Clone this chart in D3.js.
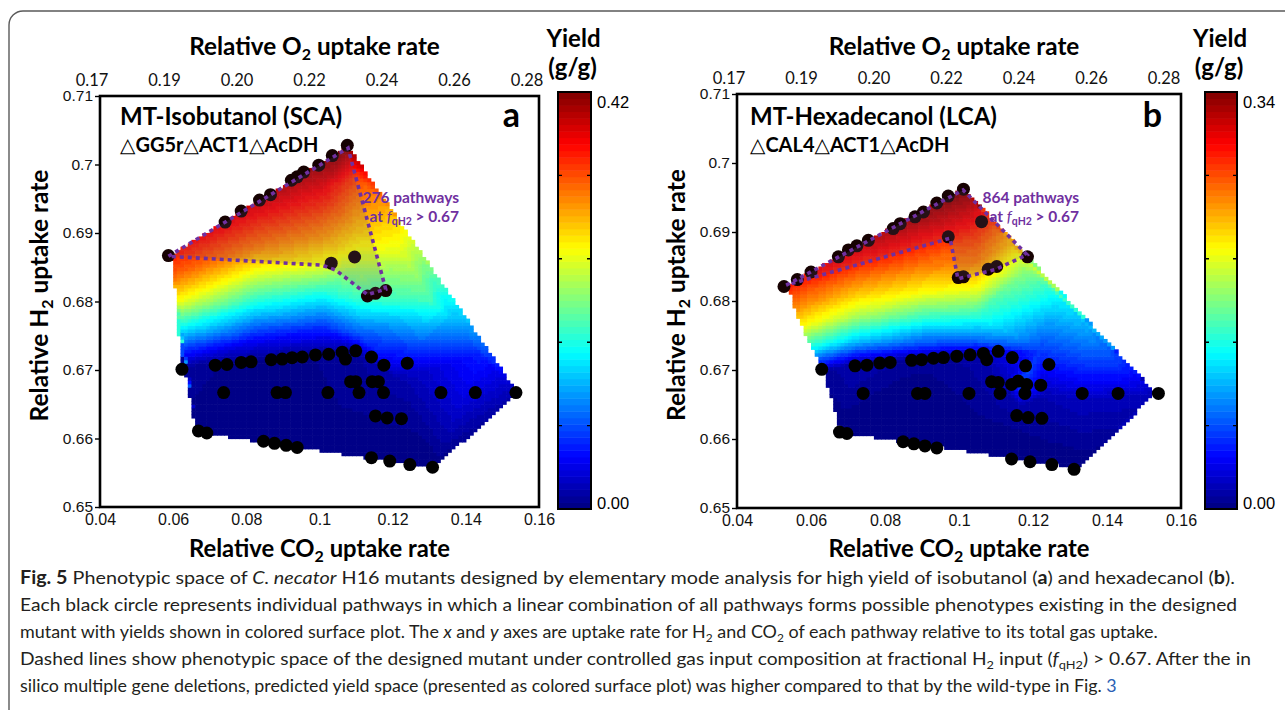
<!DOCTYPE html>
<html>
<head>
<meta charset="utf-8">
<script src="https://cdn.jsdelivr.net/npm/d3@7"></script>
<style>
body { margin: 0; background: #fff; }
svg text { font-family: Lato, "Open Sans", sans-serif; }
.num { font-family: "Liberation Sans", Arial, sans-serif; }
</style>
</head>
<body>
<svg id="fig" width="1285" height="710"></svg>
<script>
// ---- axes (shared by both panels) ----
var xTicks = [0.04, 0.06, 0.08, 0.10, 0.12, 0.14, 0.16];
var xTickLabels = ["0.04", "0.06", "0.08", "0.1", "0.12", "0.14", "0.16"];
var yTicks = [0.65, 0.66, 0.67, 0.68, 0.69, 0.70, 0.71];
var yTickLabels = ["0.65", "0.66", "0.67", "0.68", "0.69", "0.7", "0.71"];
var o2Labels = ["0.17", "0.19", "0.20", "0.22", "0.24", "0.26", "0.28"];

// ---- panel a : MT-Isobutanol ----
var aLowPathways = [
  [0.0624,0.6701],[0.0715,0.6707],[0.0747,0.6708],[0.0786,0.6711],[0.0813,0.6712],[0.0868,0.6715],[0.0898,0.6716],
  [0.0925,0.6718],[0.0953,0.6719],[0.0989,0.6722],[0.1025,0.6723],[0.1062,0.6726],[0.1099,0.6728],[0.1142,0.6719],
  [0.1071,0.6716],[0.1176,0.6707],[0.1240,0.6710],
  [0.1085,0.6683],[0.1099,0.6683],[0.1144,0.6683],[0.1161,0.6683],
  [0.0738,0.6667],[0.0884,0.6667],[0.0907,0.6667],[0.1023,0.6667],[0.1108,0.6667],[0.1175,0.6667],[0.1332,0.6667],
  [0.1426,0.6667],[0.1537,0.6667],
  [0.1153,0.6633],[0.1185,0.6630],[0.1224,0.6629],
  [0.0669,0.6611],[0.0692,0.6608],
  [0.0847,0.6596],[0.0877,0.6593],[0.0909,0.6590],[0.0939,0.6587],
  [0.1142,0.6572],[0.1192,0.6567],[0.1247,0.6562],[0.1309,0.6558]
];
var aHighPathways = [
  [0.0587,0.6867],[0.0742,0.6916],[0.0786,0.6932],[0.0836,0.6948],[0.0866,0.6956],[0.0923,0.6977],[0.0939,0.6982],
  [0.0957,0.6989],[0.0998,0.6999],[0.1035,0.7013],[0.1076,0.7028],
  [0.1032,0.6856],[0.1096,0.6865],
  [0.1131,0.6808],[0.1153,0.6812],[0.1181,0.6816]
];
var aRegion = [[0.0587,0.6866],[0.1078,0.7024],[0.1181,0.6818],[0.1131,0.6810],[0.1107,0.6820],[0.1044,0.6846],[0.1007,0.6853]];
var aSurfaceEdge = [[0.0586,0.6866],[0.1077,0.7027],[0.1540,0.6668],[0.1312,0.6557],[0.0666,0.6609],[0.0655,0.6631],
  [0.0641,0.6675],[0.0622,0.6715],[0.0611,0.6773],[0.0600,0.6858]];
// [x, y, yield g/g]
var aYield = [
  [0.0586,0.6866,0.357],[0.0833,0.6948,0.386],[0.1077,0.7027,0.42],
  [0.0600,0.6839,0.328],[0.0614,0.6802,0.260],[0.0622,0.6770,0.176],[0.0630,0.6736,0.084],[0.0641,0.6706,0.013],
  [0.0825,0.6882,0.319],[0.0825,0.6846,0.260],[0.0825,0.6795,0.160],[0.0825,0.6744,0.050],[0.0825,0.6712,0.0],
  [0.1008,0.6963,0.370],[0.1008,0.6897,0.307],[0.1008,0.6853,0.252],[0.1008,0.6817,0.176],[0.1008,0.6766,0.076],[0.1008,0.6726,0.008],
  [0.1099,0.6985,0.344],[0.1099,0.6904,0.286],[0.1112,0.6853,0.235],[0.1112,0.6802,0.176],[0.1112,0.6751,0.084],[0.1099,0.6726,0.013],
  [0.1195,0.6934,0.294],[0.1236,0.6868,0.244],[0.1304,0.6802,0.185],[0.1373,0.6773,0.126],[0.1441,0.6722,0.063],[0.1540,0.6668,0.021],
  [0.0666,0.6609,0],[0.1312,0.6557,0],[0.1222,0.6685,0.017],[0.1277,0.6729,0.071],[0.0948,0.6627,0]
];

// ---- panel b : MT-Hexadecanol ----
var bLowPathways = [
  [0.0629,0.6701],[0.0719,0.6706],[0.0751,0.6707],[0.0786,0.6710],[0.0814,0.6711],[0.0872,0.6714],[0.0899,0.6715],
  [0.0931,0.6717],[0.0958,0.6718],[0.0994,0.6720],[0.1030,0.6722],[0.1066,0.6724],[0.1106,0.6727],[0.1075,0.6715],
  [0.1144,0.6718],[0.1180,0.6706],[0.1243,0.6708],
  [0.1088,0.6683],[0.1106,0.6682],[0.1142,0.6679],[0.1160,0.6684],[0.1183,0.6679],[0.1221,0.6678],
  [0.0741,0.6666],[0.0888,0.6666],[0.0908,0.6666],[0.1027,0.6666],[0.1111,0.6666],[0.1178,0.6666],[0.1333,0.6666],
  [0.1430,0.6666],[0.1539,0.6666],
  [0.1156,0.6634],[0.1187,0.6631],[0.1224,0.6630],
  [0.0677,0.6610],[0.0697,0.6608],
  [0.0849,0.6596],[0.0878,0.6593],[0.0908,0.6590],[0.0940,0.6587],
  [0.1142,0.6571],[0.1192,0.6567],[0.1251,0.6563],[0.1311,0.6556]
];
var bHighPathways = [
  [0.0527,0.6821],[0.0563,0.6831],[0.0600,0.6842],[0.0674,0.6864],[0.0701,0.6874],[0.0724,0.6880],[0.0755,0.6888],
  [0.0822,0.6905],[0.0841,0.6912],[0.0881,0.6922],[0.0904,0.6929],[0.0940,0.6942],[0.0971,0.6952],[0.1012,0.6962],
  [0.0971,0.6893],[0.1061,0.6915],
  [0.0998,0.6834],[0.1012,0.6835],[0.1079,0.6846],[0.1102,0.6850],[0.1185,0.6864]
];
var bRegion = [[0.0533,0.6823],[0.1011,0.6961],[0.1184,0.6867],[0.1100,0.6846],[0.0997,0.6832],[0.0976,0.6891]];
var bSurfaceEdge = [[0.0524,0.6820],[0.1011,0.6964],[0.1532,0.6667],[0.1322,0.6558],[0.0678,0.6610],[0.0673,0.6628],
  [0.0632,0.6700],[0.0589,0.6748],[0.0562,0.6777],[0.0543,0.6813]];
var bYield = [
  [0.0527,0.6820,0.289],[0.0759,0.6888,0.316],[0.1011,0.6962,0.34],
  [0.0557,0.6794,0.255],[0.0573,0.6765,0.214],[0.0592,0.6736,0.143],[0.0611,0.6714,0.068],[0.0630,0.6697,0.007],
  [0.0724,0.6857,0.289],[0.0724,0.6816,0.238],[0.0724,0.6780,0.187],[0.0724,0.6743,0.109],[0.0724,0.6712,0.017],
  [0.0903,0.6920,0.323],[0.0903,0.6852,0.258],[0.0903,0.6813,0.211],[0.0903,0.6772,0.136],[0.0903,0.6736,0.061],[0.0903,0.6717,0.007],
  [0.1049,0.6896,0.279],[0.1049,0.6857,0.255],[0.1049,0.6816,0.204],[0.1049,0.6780,0.143],[0.1049,0.6743,0.075],[0.1049,0.6723,0.014],
  [0.1130,0.6886,0.240],[0.1178,0.6845,0.175],[0.1265,0.6809,0.130],[0.1354,0.6751,0.092],[0.1443,0.6697,0.051],[0.1530,0.6667,0.020],
  [0.1219,0.6729,0.061],[0.1165,0.6681,0.068],[0.1111,0.6681,0.014],[0.1232,0.6664,0.017],[0.1165,0.6649,0.014],
  [0.0678,0.6610,0],[0.1322,0.6559,0],[0.0976,0.6628,0],[0.1327,0.6656,0.02]
];

// ---- caption ----
var captionLines = [
  [["Fig. 5","b"],["  Phenotypic space of ",""],["C. necator","i"],[" H16 mutants designed by elementary mode analysis for high yield of isobutanol (",""],["a","b"],[") and hexadecanol (",""],["b","b"],[").",""]],
  [["Each black circle represents individual pathways in which a linear combination of all pathways forms possible phenotypes existing in the designed",""]],
  [["mutant with yields shown in colored surface plot. The ",""],["x","i"],[" and ",""],["y","i"],[" axes are uptake rate for H",""],["2","sub"],[" and CO",""],["2","sub"],[" of each pathway relative to its total gas uptake.",""]],
  [["Dashed lines show phenotypic space of the designed mutant under controlled gas input composition at fractional H",""],["2","sub"],[" input (",""],["f","i"],["qH2","sub"],[") > 0.67. After the in",""]],
  [["silico multiple gene deletions, predicted yield space (presented as colored surface plot) was higher compared to that by the wild-type in Fig. ",""],["3","link"]]
];
var captionEnds = [1236, 1238, 1158, 1252, 1118];

var svg = d3.select("#fig");
var PURPLE = "#7030a0";

// outer frame of the figure box
svg.append("rect")
  .attr("x", 9).attr("y", 11)
  .attr("width", 1320).attr("height", 740)
  .attr("rx", 14)
  .attr("fill", "none")
  .attr("stroke", "#5a5a5a")
  .attr("stroke-width", 1.4);

function jet(t) {
  var c = function(v) { return Math.max(0, Math.min(1, v)); };
  var r = c(1.5 - Math.abs(4 * t - 3)),
      g = c(1.5 - Math.abs(4 * t - 2)),
      b = c(1.5 - Math.abs(4 * t - 1));
  return "rgb(" + Math.round(r * 255) + "," + Math.round(g * 255) + "," + Math.round(b * 255) + ")";
}
function jetLevel(t) {
  var k = Math.max(0, Math.min(63, Math.floor(t * 64)));
  return jet((k + 0.5) / 64);
}

function drawPanel(cfg) {
  var x = d3.scaleLinear().domain([0.04, 0.16]).range([cfg.left, cfg.right]);
  var y = d3.scaleLinear().domain([0.65, 0.71]).range([cfg.bottom, cfg.top]);
  var g = svg.append("g");

  // surface: linear interpolation over a triangulation of the yield samples
  var pts = cfg.yieldData.map(function(d) { return [x(d[0]), y(d[1])]; });
  var vals = cfg.yieldData.map(function(d) { return d[2]; });
  var del = d3.Delaunay.from(pts);
  var tris = [];
  for (var i = 0; i < del.triangles.length; i += 3)
    tris.push([del.triangles[i], del.triangles[i + 1], del.triangles[i + 2]]);

  function interp(p) {
    for (var k = 0; k < tris.length; k++) {
      var a = pts[tris[k][0]], b = pts[tris[k][1]], c = pts[tris[k][2]];
      var den = (b[1] - c[1]) * (a[0] - c[0]) + (c[0] - b[0]) * (a[1] - c[1]);
      var l1 = ((b[1] - c[1]) * (p[0] - c[0]) + (c[0] - b[0]) * (p[1] - c[1])) / den;
      var l2 = ((c[1] - a[1]) * (p[0] - c[0]) + (a[0] - c[0]) * (p[1] - c[1])) / den;
      var l3 = 1 - l1 - l2;
      if (l1 >= -1e-9 && l2 >= -1e-9 && l3 >= -1e-9)
        return l1 * vals[tris[k][0]] + l2 * vals[tris[k][1]] + l3 * vals[tris[k][2]];
    }
    return vals[del.find(p[0], p[1])];
  }

  var edge = cfg.edge.map(function(d) { return [x(d[0]), y(d[1])]; });
  var cells = [];
  var dx = 0.001, dy = 0.0005;
  for (var cx = 0.05; cx < 0.16; cx += dx) {
    for (var cy = 0.654; cy < 0.705; cy += dy) {
      var c = [x(cx + dx / 2), y(cy + dy / 2)];
      if (!d3.polygonContains(edge, c)) continue;
      cells.push({x0: cx, y0: cy, v: interp(c)});
    }
  }
  g.append("g").selectAll("rect")
    .data(cells)
    .join("rect")
    .attr("x", function(d) { return x(d.x0); })
    .attr("y", function(d) { return y(d.y0 + dy); })
    .attr("width", x(dx) - x(0) + 0.6)
    .attr("height", y(0.65) - y(0.65 + dy) + 0.6)
    .attr("fill", function(d) { return jetLevel(d.v / cfg.maxYield); });

  // pathways
  g.append("g").selectAll("circle")
    .data(cfg.low)
    .join("circle")
    .attr("cx", function(d) { return x(d[0]); })
    .attr("cy", function(d) { return y(d[1]); })
    .attr("r", 6.5)
    .attr("fill", "#000");
  g.append("g").selectAll("circle")
    .data(cfg.high)
    .join("circle")
    .attr("cx", function(d) { return x(d[0]); })
    .attr("cy", function(d) { return y(d[1]); })
    .attr("r", 6.5)
    .attr("fill", "#160202");

  // phenotypic space at fqH2 > 0.67
  g.append("path")
    .attr("d", "M" + cfg.region.map(function(d) { return [x(d[0]), y(d[1])]; }).join("L") + "Z")
    .attr("fill", "#6b5a7a")
    .attr("fill-opacity", 0.18)
    .attr("stroke", PURPLE)
    .attr("stroke-width", 3.6)
    .attr("stroke-dasharray", "4 4");

  var note = g.append("text")
    .attr("x", cfg.noteX).attr("y", 203)
    .attr("text-anchor", "end")
    .attr("fill", PURPLE)
    .attr("font-size", 15.5)
    .attr("font-weight", 700);
  note.append("tspan").text(cfg.note);
  var note2 = g.append("text")
    .attr("x", cfg.noteX).attr("y", 222)
    .attr("text-anchor", "end")
    .attr("fill", PURPLE)
    .attr("font-size", 15.5)
    .attr("font-weight", 700);
  note2.append("tspan").text("at ");
  note2.append("tspan").attr("font-style", "italic").attr("font-weight", 400).text("f");
  note2.append("tspan").attr("font-size", 10.5).attr("dy", 3).text("qH2");
  note2.append("tspan").attr("dy", -3).text(" > 0.67");

  // frame
  g.append("rect")
    .attr("x", cfg.left).attr("y", cfg.top)
    .attr("width", cfg.right - cfg.left).attr("height", cfg.bottom - cfg.top)
    .attr("fill", "none").attr("stroke", "#000").attr("stroke-width", 2.6);

  // left axis
  var ya = g.append("g")
    .attr("transform", "translate(" + cfg.left + ",0)")
    .call(d3.axisLeft(y).tickValues(yTicks).tickSize(5).tickPadding(2)
      .tickFormat(function(d, i) { return yTickLabels[i]; }));
  ya.select(".domain").remove();
  ya.selectAll("line").attr("stroke-width", 1.4);
  ya.selectAll("text").attr("class", "num").attr("font-size", 15.5).attr("fill", "#111");

  // bottom axis
  var xa = g.append("g")
    .attr("transform", "translate(0," + cfg.bottom + ")")
    .call(d3.axisBottom(x).tickValues(xTicks).tickSize(0).tickPadding(7)
      .tickFormat(function(d, i) { return xTickLabels[i]; }));
  xa.select(".domain").remove();
  xa.selectAll("text").attr("class", "num").attr("font-size", 16).attr("fill", "#111");

  // top O2 labels
  var top = d3.scalePoint().domain(o2Labels).range([cfg.left - 8, cfg.right - cfg.topShrink]);
  g.append("g").selectAll("text")
    .data(o2Labels)
    .join("text")
    .attr("x", function(d) { return top(d); })
    .attr("y", cfg.top - 10)
    .attr("text-anchor", "middle")
    .attr("font-size", 16.5)
    .attr("fill", "#111")
    .text(function(d) { return d; });

  // axis titles
  var t1 = g.append("text")
    .attr("x", (cfg.left + cfg.right) / 2 - 5).attr("y", 55)
    .attr("text-anchor", "middle").attr("font-size", 24.3).attr("font-weight", 700);
  t1.append("tspan").text("Relative O");
  t1.append("tspan").attr("font-size", 16).attr("dy", 5).text("2");
  t1.append("tspan").attr("dy", -5).text(" uptake rate");

  var t2 = g.append("text")
    .attr("x", (cfg.left + cfg.right) / 2).attr("y", 557)
    .attr("text-anchor", "middle").attr("font-size", 23.8).attr("font-weight", 700);
  t2.append("tspan").text("Relative CO");
  t2.append("tspan").attr("font-size", 16).attr("dy", 5).text("2");
  t2.append("tspan").attr("dy", -5).text(" uptake rate");

  var t3 = g.append("text")
    .attr("transform", "translate(" + (cfg.left - 52) + "," + ((cfg.top + cfg.bottom) / 2 - 6) + ") rotate(-90)")
    .attr("text-anchor", "middle").attr("font-size", 24.5).attr("font-weight", 700);
  t3.append("tspan").text("Relative H");
  t3.append("tspan").attr("font-size", 16).attr("dy", 5).text("2");
  t3.append("tspan").attr("dy", -5).text(" uptake rate");

  // panel titles
  g.append("text")
    .attr("x", cfg.left + 20 - cfg.titleShift).attr("y", 125)
    .attr("font-size", 24).attr("font-weight", 700)
    .text(cfg.title);
  var sub = g.append("text")
    .attr("x", cfg.left + 20 - cfg.titleShift).attr("y", 152)
    .attr("font-size", 20).attr("font-weight", 700);
  cfg.deletions.forEach(function(d) {
    sub.append("tspan").attr("font-family", "DejaVu Sans").attr("font-weight", 400).text("\u25B3");
    sub.append("tspan").text(d);
  });
  g.append("text")
    .attr("x", cfg.right - 19).attr("y", 127)
    .attr("text-anchor", "end")
    .attr("font-size", 34).attr("font-weight", 700)
    .text(cfg.letter);

  // colour bar
  var cb = d3.scaleLinear().domain([0, cfg.maxYield]).range([cfg.cbBottom, cfg.cbTop]);
  var levels = d3.range(64);
  g.append("g").selectAll("rect")
    .data(levels)
    .join("rect")
    .attr("x", cfg.cbLeft)
    .attr("y", function(k) { return cb((k + 1) / 64 * cfg.maxYield); })
    .attr("width", cfg.cbRight - cfg.cbLeft)
    .attr("height", (cfg.cbBottom - cfg.cbTop) / 64 + 0.5)
    .attr("fill", function(k) { return jet((k + 0.5) / 64); });
  g.append("rect")
    .attr("x", cfg.cbLeft).attr("y", cfg.cbTop)
    .attr("width", cfg.cbRight - cfg.cbLeft).attr("height", cfg.cbBottom - cfg.cbTop)
    .attr("fill", "none").attr("stroke", "#000").attr("stroke-width", 2);
  var cbTicks = d3.range(1, 5).map(function(k) { return cfg.maxYield * k / 5; });
  g.append("g").selectAll("path")
    .data(cbTicks)
    .join("path")
    .attr("d", function(v) {
      var yy = cb(v);
      return "M" + cfg.cbLeft + "," + yy + "h4M" + cfg.cbRight + "," + yy + "h-4";
    })
    .attr("stroke", "#000").attr("stroke-width", 1.4);
  g.append("text").attr("class", "num")
    .attr("x", cfg.cbRight + 6).attr("y", cb(cfg.maxYield) + 16)
    .attr("font-size", 16.5).text(cfg.maxYield.toFixed(2));
  g.append("text").attr("class", "num")
    .attr("x", cfg.cbRight + 6).attr("y", cb(0))
    .attr("font-size", 16.5).text("0.00");
  g.append("text")
    .attr("x", (cfg.cbLeft + cfg.cbRight) / 2 - 1).attr("y", 47)
    .attr("text-anchor", "middle").attr("font-size", 24).attr("font-weight", 700)
    .text("Yield");
  g.append("text")
    .attr("x", (cfg.cbLeft + cfg.cbRight) / 2 - 2).attr("y", 76)
    .attr("text-anchor", "middle").attr("font-size", 24).attr("font-weight", 700)
    .text("(g/g)");
}

drawPanel({
  left: 100, right: 539, top: 96, bottom: 507, topShrink: 12,
  cbLeft: 558, cbRight: 591, cbTop: 92, cbBottom: 509,
  maxYield: 0.42, low: aLowPathways, high: aHighPathways, region: aRegion,
  edge: aSurfaceEdge, yieldData: aYield,
  note: "276 pathways", noteX: 459,
  title: "MT-Isobutanol (SCA)", deletions: ["GG5r", "ACT1", "AcDH"], letter: "a", titleShift: 0
});
drawPanel({
  left: 737, right: 1181, top: 94, bottom: 508, topShrink: 17,
  cbLeft: 1205, cbRight: 1237, cbTop: 92, cbBottom: 509,
  maxYield: 0.34, low: bLowPathways, high: bHighPathways, region: bRegion,
  edge: bSurfaceEdge, yieldData: bYield,
  note: "864 pathways", noteX: 1079,
  title: "MT-Hexadecanol (LCA)", deletions: ["CAL4", "ACT1", "AcDH"], letter: "b", titleShift: 7
});

// caption
var capX = 20;
captionLines.forEach(function(line, li) {
  var t = svg.append("text")
    .attr("x", capX).attr("y", 584 + li * 27)
    .attr("font-size", 18).attr("fill", "#231f20");
  var down = false;
  line.forEach(function(seg) {
    var s = t.append("tspan").text(seg[0]);
    if (seg[1] === "b") s.attr("font-weight", 700);
    if (seg[1] === "i") s.attr("font-style", "italic");
    if (seg[1] === "link") s.attr("fill", "#2b5fb4");
    if (seg[1] === "sub") { s.attr("font-size", 12).attr("dy", 4); down = true; }
    else if (down) { s.attr("dy", -4); down = false; }
  });
  var w = t.node().getBBox().width;
  var sx = (captionEnds[li] - capX) / w;
  t.attr("transform", "translate(" + capX + ",0) scale(" + sx + ",1) translate(" + (-capX) + ",0)");
});
</script>
</body>
</html>
